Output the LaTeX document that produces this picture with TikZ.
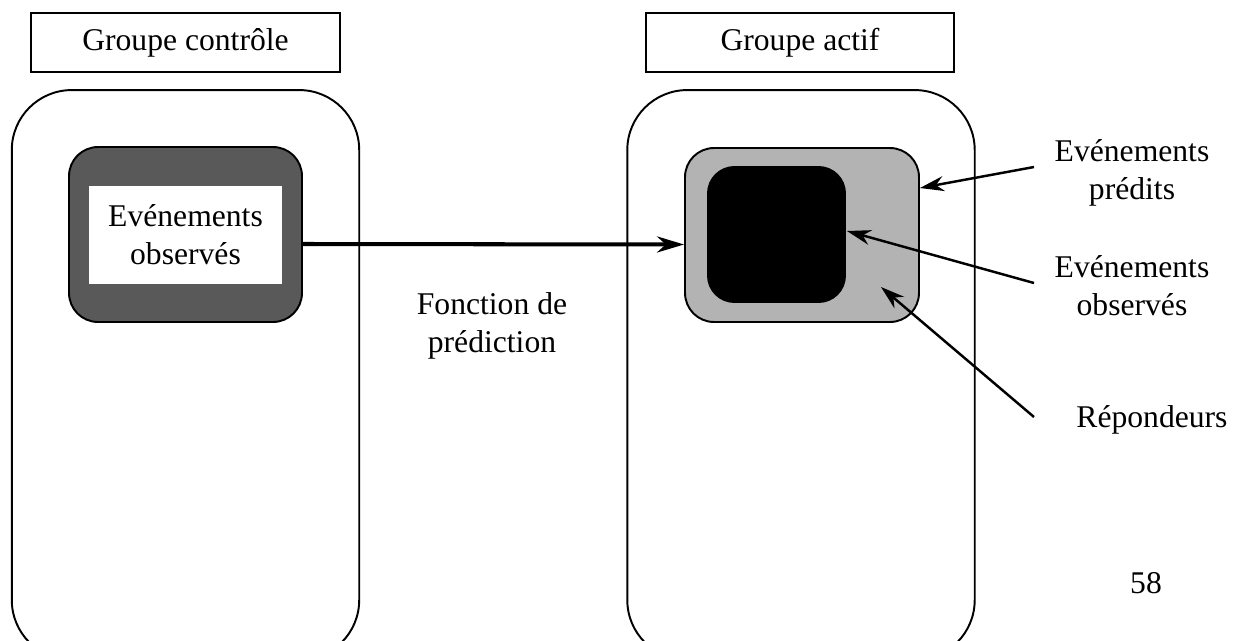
\documentclass[tikz,border=0pt]{standalone}
\usepackage{fontspec}
\setmainfont{Liberation Serif}
\usepackage{tikz}
\usetikzlibrary{arrows.meta,shapes,backgrounds}
\definecolor{darkgrey}{RGB}{89,89,89}
\definecolor{lightgrey}{RGB}{179,179,179}

\begin{document}
\begin{tikzpicture}[x=0.02cm,y=-0.02cm,line width=1.1pt,
    every node/.style={font=\fontsize{18}{21.5}\selectfont,align=center},
    title box/.style={draw,rectangle,minimum width=6.17cm,minimum height=1.18cm},
    group box/.style={draw,rectangle,rounded corners=1.2cm,minimum width=6.95cm,minimum height=11.4cm},
    event box/.style={draw,rectangle,rounded corners=0.58cm},
    big arrow/.style={-{Stealth[length=0.54cm,width=0.32cm]},line width=2.3pt},
    small arrow/.style={-{Stealth[length=0.48cm,width=0.3cm]},line width=1.4pt}]

  \useasboundingbox (0,0) rectangle (1238,640);
  \clip (0,0) rectangle (1238,640);

  \node[title box] (ctrl) at (185.5,42.5) {Groupe contrôle};
  \node[title box] (actif) at (800,42.5) {Groupe actif};

  \node[group box] (g1) at (185.5,375) {};
  \node[group box] (g2) at (801,375) {};

  \node[event box,fill=darkgrey,minimum width=4.66cm,minimum height=3.5cm] (obs1) at (185.5,234.5) {};
  \node[fill=white,minimum width=3.86cm,minimum height=1.96cm] (txt1) at (185.5,235) {Evénements\\observés};

  \node[event box,fill=lightgrey,minimum width=4.68cm,minimum height=3.48cm] (pred) at (802,235) {};
  \node[event box,draw=none,fill=black,minimum width=2.78cm,minimum height=2.74cm,rounded corners=0.55cm] (obs2) at (776.5,234.5) {};

  \node (fonc) at (492,326) {Fonction de\\prédiction};
  \node (lpred) at (1132,173) {Evénements\\prédits};
  \node (lobs) at (1132,286) {Evénements\\observés};
  \node (lrep) at (1152,420) {Répondeurs};
  \node (page) at (1146,583) {58};

  \coordinate (t1) at (1034,167);
  \coordinate (t2) at (1034,283);
  \coordinate (t3) at (1034,417);
  \coordinate (rep) at (881,287);

  \draw[big arrow] ([yshift=-0.19cm]obs1.east) -- ([yshift=-0.19cm]pred.west);
  \draw[small arrow] (t1) -- ([yshift=0.94cm]pred.east);
  \draw[small arrow] (t2) -- ([yshift=0.07cm]obs2.east);
  \draw[small arrow] (t3) -- (rep);
\end{tikzpicture}
\end{document}
